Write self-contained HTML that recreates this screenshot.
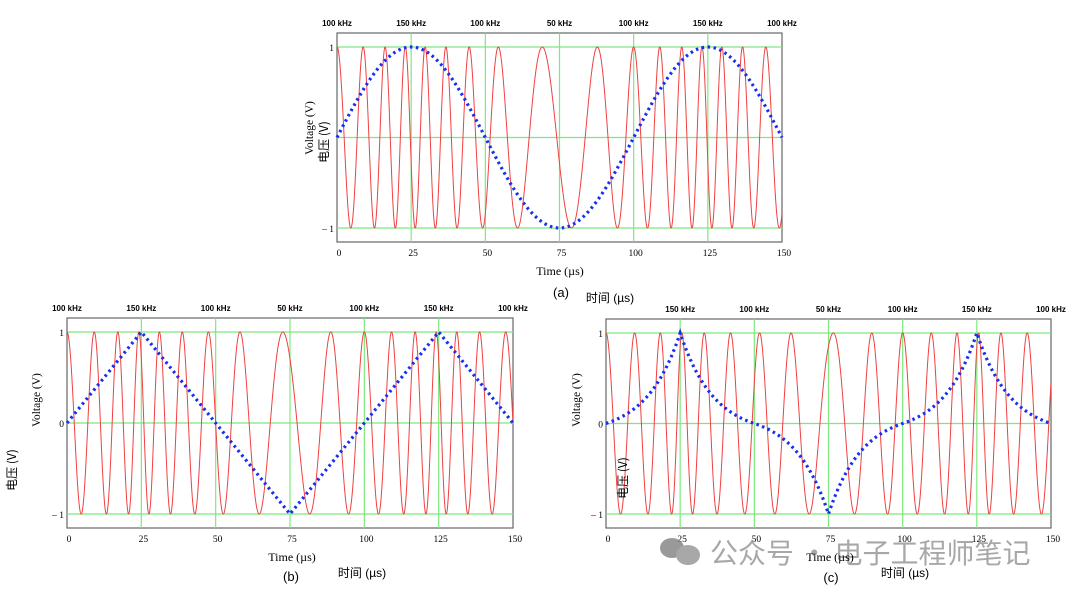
<!DOCTYPE html>
<html><head><meta charset="utf-8"><style>
body{margin:0;background:#fff;width:1080px;height:597px;overflow:hidden;font-family:"Liberation Serif","Noto Serif CJK SC",serif}
svg{position:absolute;left:0;top:0}
</style></head><body>
<svg id="s" width="1080" height="597" xmlns="http://www.w3.org/2000/svg"></svg>
<script>
const S=document.getElementById('s');let h='';
function tri(t){let p=((t%100)+100)%100;if(p<25)return p/25;if(p<75)return 1-(p-25)/25;return -1+(p-75)/25;}
function g(x){const k=2.2;return Math.sign(x)*(Math.exp(k*Math.abs(x))-1)/(Math.exp(k)-1);}
const mods=[t=>Math.sin(2*Math.PI*t/100),tri,t=>g(tri(t))];
const P=[{x0:337,x1:782,top:33,bot:242,y1:47,ym:228,lt:'a'},{x0:67,x1:513,top:318,bot:528,y1:332,ym:514,lt:'b'},{x0:606,x1:1051,top:319,bot:528,y1:333,ym:514,lt:'c'}];
P.forEach((p,i)=>{
 const m=mods[i];const X=t=>p.x0+(p.x1-p.x0)*t/150;const yc=(p.y1+p.ym)/2,A=(p.ym-p.y1)/2;const Y=v=>yc-A*v;
 h+=`<rect x="${p.x0}" y="${p.top}" width="${p.x1-p.x0}" height="${p.bot-p.top}" fill="none" stroke="#666" stroke-width="1.2"/>`;
 [1,0,-1].forEach(v=>h+=`<line x1="${p.x0}" x2="${p.x1}" y1="${Y(v)}" y2="${Y(v)}" stroke="#7ee87e" stroke-width="1.2"/>`);
 [25,50,75,100,125].forEach(t=>h+=`<line x1="${X(t)}" x2="${X(t)}" y1="${p.top}" y2="${p.bot}" stroke="#7ee87e" stroke-width="1.2"/>`);
 let ph=0,d='',dt=0.02;
 for(let t=0;t<=150.0001;t+=dt){d+=(t?'L':'M')+X(t).toFixed(2)+','+Y(Math.cos(ph)).toFixed(2);ph+=2*Math.PI*(0.1+0.05*m(t))*dt;}
 h+=`<path d="${d}" fill="none" stroke="#f04040" stroke-width="1"/>`;
 let b='';for(let t=0;t<=150.0001;t+=0.25)b+=(t?'L':'M')+X(t).toFixed(2)+','+Y(m(t)).toFixed(2);
 h+=`<path d="${b}" fill="none" stroke="#1530f0" stroke-width="3.2" stroke-dasharray="2.5,3.5"/>`;
 const lab=['100 kHz','150 kHz','100 kHz','50 kHz','100 kHz','150 kHz','100 kHz'];
 lab.forEach((l,k)=>{if(i==2&&k==0)return;h+=`<text x="${X(k*25)}" y="${p.top-7}" font-family="Liberation Sans,sans-serif" font-size="8" font-weight="bold" text-anchor="middle">${l}</text>`;});
 [0,25,50,75,100,125,150].forEach(t=>h+=`<text x="${X(t)+2}" y="${p.bot+14}" font-size="9.5" text-anchor="middle">${t}</text>`);
 h+=`<text x="${p.x0-3}" y="${Y(1)+4}" font-size="9.5" text-anchor="end">1</text>`;
 if(i>0)h+=`<text x="${p.x0-3}" y="${Y(0)+4}" font-size="9.5" text-anchor="end">0</text>`;
 h+=`<text x="${p.x0-3}" y="${Y(-1)+4}" font-size="9.5" text-anchor="end">– 1</text>`;
});
function rt(x,y,t,fs,ff){h+=`<text transform="translate(${x},${y}) rotate(-90)" font-size="${fs}" text-anchor="middle" ${ff?'font-family="'+ff+'"':''}>${t}</text>`;}
rt(313,128,'Voltage (V)',11.5);rt(328,142,'电压 (V)',12,'Noto Sans CJK SC,sans-serif');
rt(40,400,'Voltage (V)',11.5);rt(16,470,'电压 (V)',12,'Noto Sans CJK SC,sans-serif');
rt(580,400,'Voltage (V)',11.5);rt(627,478,'电压 (V)',12,'Noto Sans CJK SC,sans-serif');
function tx(x,y,t,fs,ff){h+=`<text x="${x}" y="${y}" font-size="${fs}" text-anchor="middle" ${ff?'font-family="'+ff+'"':''}>${t}</text>`;}
const sans='Liberation Sans,Noto Sans CJK SC,sans-serif';
tx(560,275,'Time (µs)',12);tx(561,297,'(a)',13,sans);tx(610,302,'时间 (µs)',12,sans);
tx(292,561,'Time (µs)',12);tx(291,581,'(b)',13,sans);tx(362,577,'时间 (µs)',12,sans);
h+=`<g fill="#888" opacity="0.85"><ellipse cx="672" cy="548" rx="12" ry="10"/><ellipse cx="688" cy="555" rx="12" ry="10" fill="#999"/></g>`;
h+=`<text x="710" y="563" font-size="28" fill="#999" opacity="0.85" font-family="Noto Sans CJK SC,sans-serif">公众号 · 电子工程师笔记</text>`;
tx(830,561,'Time (µs)',12);tx(831,582,'(c)',13,sans);tx(905,577,'时间 (µs)',12,sans);
S.innerHTML=h;
</script>
</body></html>
